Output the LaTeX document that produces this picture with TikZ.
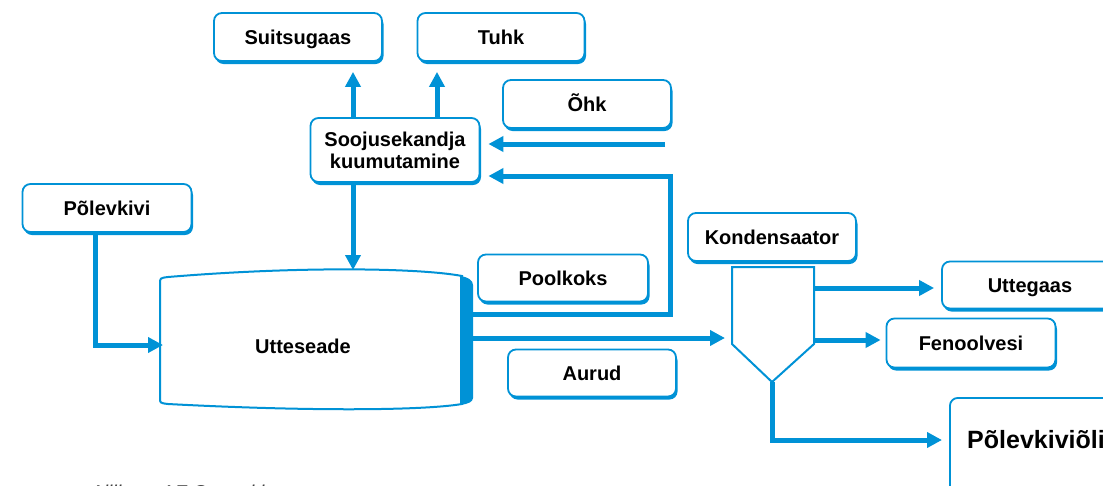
\documentclass[tikz,border=0pt]{standalone}
\usepackage{fontspec}
\setmainfont{Liberation Sans}
\usetikzlibrary{arrows.meta,shadows,calc}
\definecolor{cBlue}{RGB}{0,146,214}
\begin{document}
\begin{tikzpicture}[x=1pt,y=-1pt,
  box/.style={draw=cBlue, line width=1.8pt, fill=white, rounded corners=8pt,
    minimum width=168pt, minimum height=48pt, inner sep=0pt,
    text height=14.5pt, text depth=0pt,
    font=\bfseries\fontsize{20}{22}\selectfont,
    drop shadow={shadow xshift=1.5pt, shadow yshift=-3pt, opacity=1, fill=cBlue}},
  conn/.style={draw=cBlue, line width=5pt, line join=miter},
  arr/.style={conn, -{Triangle[length=15pt,width=15pt]}},
  thin/.style={draw=cBlue, line width=2pt, line join=miter}]
\useasboundingbox (0,0) rectangle (1103,485);

% Utteseade vessel
\path[thin, fill=white] (160,398) -- (160,284) .. controls (160,278) .. (168,277)
  .. controls (300,266) and (420,268) .. (462,276) -- (462,404)
  .. controls (420,411) and (300,411) .. (168,404)
  .. controls (160,403) .. (160,398) -- cycle;
\fill[cBlue] (460,276) .. controls (468,277) and (473,280) .. (473,285) -- (473,398)
  .. controls (473,402) and (468,404) .. (460,405) -- cycle;
\node[minimum width=313pt, minimum height=135pt, inner sep=0pt] (utt) at (316,339) {};
\node[inner sep=0pt, text height=14.5pt, text depth=0pt, font=\bfseries\fontsize{20}{22}\selectfont] (utttxt) at ($(utt.center)+(-13,7)$) {Utteseade};

% boxes
\node[box] (suits) at (298,37) {Suitsugaas};
\node[box, minimum width=167pt] (tuhk) at (501,37) {Tuhk};
\node[box] (ohk) at (587,104) {Õhk};
\node[box, minimum width=169pt, minimum height=64pt, align=center, text height=36.5pt] (sooj) at (395,150) {Soojusekandja\\kuumutamine};
\node[box, minimum width=169pt] (pk) at (107,208) {Põlevkivi};
\node[box, minimum width=170pt, minimum height=47pt] (poolkoks) at (563,278) {Poolkoks};
\node[box, minimum height=47pt] (aurud) at (592,373) {Aurud};
\node[box] (kond) at (772,237) {Kondensaator};
\node[box, minimum width=176pt, minimum height=47pt] (utteg) at (1030,285) {Uttegaas};
\node[box, minimum width=169pt, minimum height=49pt] (feno) at (971,343) {Fenoolvesi};
\node[box, anchor=north west, minimum width=250pt, minimum height=110pt] (oil) at (949,397) {};
\node[anchor=base west, inner sep=0pt, font=\bfseries\fontsize{25}{28}\selectfont] (oiltxt) at (967,448) {Põlevkiviõli};

% condenser funnel
\draw[thin] (732,267) -- (732,344) -- (772,382) -- (814,344) -- (814,267) -- cycle;
\coordinate (fun) at (772,382);
\coordinate (funw) at (732,338);

% connectors
\draw[arr, shorten >=10pt] (353,0 |- sooj.north) -- (353,0 |- suits.south);
\draw[arr, shorten >=10pt] (437,0 |- sooj.north) -- (437,0 |- tuhk.south);
\coordinate (ohkin) at (665,144);
\draw[arr, shorten >=8pt] (ohkin) -- (sooj.east |- ohkin);
\coordinate (koksout) at (utt.east |- 0,314);
\draw[arr, shorten >=8pt] (koksout) -- (670,314) -- (670,176) -- (sooj.east |- 0,176);
\draw[arr] (353,0 |- sooj.south) -- (353,270);
\draw[arr] (95,0 |- pk.south) -- (95,345) -- (163,345);
\draw[arr, shorten >=7pt] (utt.east |- funw) -- (funw);
\draw[arr, shorten >=7pt] (814,288) -- (utteg.west |- 0,288);
\draw[arr, shorten >=5pt] (814,340) -- (feno.west |- 0,340);
\draw[arr, shorten >=7pt] (fun) -- (772,440) -- (oil.west |- 0,440);

% source note (cut off at the bottom, as in the reference)
\node[anchor=base west, inner sep=0pt, font=\itshape\fontsize{20}{22}\selectfont, text=black!75] (src) at (90,499) {Allikas: AF Consulting};
\end{tikzpicture}
\end{document}
